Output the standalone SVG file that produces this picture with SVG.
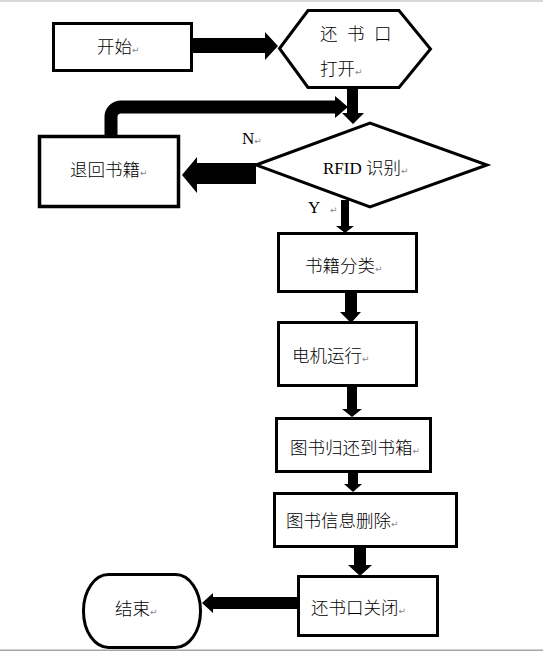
<svg xmlns="http://www.w3.org/2000/svg" width="543" height="652" viewBox="0 0 543 652">
<style>
.shape{fill:#fff;stroke:#000;stroke-width:3;stroke-linejoin:miter}
.t{font-family:"Noto Sans CJK SC","Noto Sans",sans-serif;font-size:17.5px;font-weight:300;fill:#000}
.lat{font-family:"Liberation Serif","Noto Sans CJK SC",serif;font-size:17px;fill:#000}
.rm{font-family:"DejaVu Sans",sans-serif;font-size:9px;font-weight:400;fill:#888}
.arrow{fill:#000;stroke:none}
.band{fill:none;stroke:#000;stroke-width:13}
</style>
<rect x="0" y="0" width="543" height="2" fill="#d6d9dc"/>
<rect x="0" y="649.5" width="543" height="1.5" fill="#a6a6a6"/>

<g id="connectors">
<path class="arrow" d="M193,38 H265 V32 L278,46 L265,60 V53 H193 Z"/>
<path class="arrow" d="M347,89 H358 V113 H364 L353,124 L342,113 H347 Z"/>
<path class="band" d="M111,136 V117 A10,10 0 0 1 121,107 H336"/>
<path class="arrow" d="M335,96 L348,107 L335,118 Z"/>
<path class="arrow" d="M256,163 H197 V157 L182,175 L197,193 V184 H256 Z"/>
<path class="arrow" d="M341,200 H349 V226 H354 L345,233 L336,226 H341 Z"/>
<path class="arrow" d="M345,293 H357 V312 H361 L351,323 L340,312 H345 Z"/>
<path class="arrow" d="M347,387 H357 V409 H362 L352,417 L342,409 H347 Z"/>
<path class="arrow" d="M348,473 H358 V484 H362 L353,492 L344,484 H348 Z"/>
<path class="arrow" d="M354,548 H366 V565 H372 L360,576 L348,565 H354 Z"/>
<path class="arrow" d="M297,597 H213 V593 L202,603 L213,613 V609 H297 Z"/>
<text class="lat" x="242" y="144">N<tspan class="rm">↵</tspan></text>
<text class="lat" x="308" y="213">Y <tspan class="rm" dx="6">↵</tspan></text>
</g>

<g id="start">
<rect class="shape" x="53.5" y="23.5" width="138" height="47"/>
<text class="t" x="97" y="52.5">开始<tspan class="rm">↵</tspan></text>
</g>

<g id="open">
<polygon class="shape" points="279.5,48.5 308,10.5 399,10.5 430.5,49 399,87.5 308,87.5"/>
<text class="t" x="320 347 374" y="39.5">还书口</text>
<text class="t" x="320" y="74.5">打开<tspan class="rm">↵</tspan></text>
</g>

<g id="reject">
<rect class="shape" x="39.5" y="136.5" width="139" height="70" style="stroke-width:3.5"/>
<text class="t" x="70" y="175.5">退回书籍<tspan class="rm">↵</tspan></text>
</g>

<g id="rfid">
<polygon class="shape" points="256,165 370,123 487,165 370,207"/>
<text class="lat" x="323" y="174">RFID <tspan class="t">识别</tspan><tspan class="rm">↵</tspan></text>
</g>

<g id="classify">
<rect class="shape" x="278.5" y="233.5" width="138" height="58"/>
<text class="t" x="305" y="271.5">书籍分类<tspan class="rm">↵</tspan></text>
</g>

<g id="motor">
<rect class="shape" x="278.5" y="322.5" width="138" height="63"/>
<text class="t" x="292" y="361.5">电机运行<tspan class="rm">↵</tspan></text>
</g>

<g id="return">
<rect class="shape" x="276.5" y="418.5" width="154" height="53"/>
<text class="t" x="290" y="453.5">图书归还到书箱<tspan class="rm">↵</tspan></text>
</g>

<g id="delete">
<rect class="shape" x="274.5" y="493.5" width="182" height="53"/>
<text class="t" x="286" y="526.5">图书信息删除<tspan class="rm">↵</tspan></text>
</g>

<g id="close">
<rect class="shape" x="298.5" y="576.5" width="139" height="59"/>
<text class="t" x="311" y="613.5">还书口关闭<tspan class="rm">↵</tspan></text>
</g>

<g id="end">
<rect class="shape" x="83.5" y="574.5" width="117" height="73" rx="25" ry="36"/>
<text class="t" x="115" y="614.5">结束<tspan class="rm">↵</tspan></text>
</g>
</svg>
